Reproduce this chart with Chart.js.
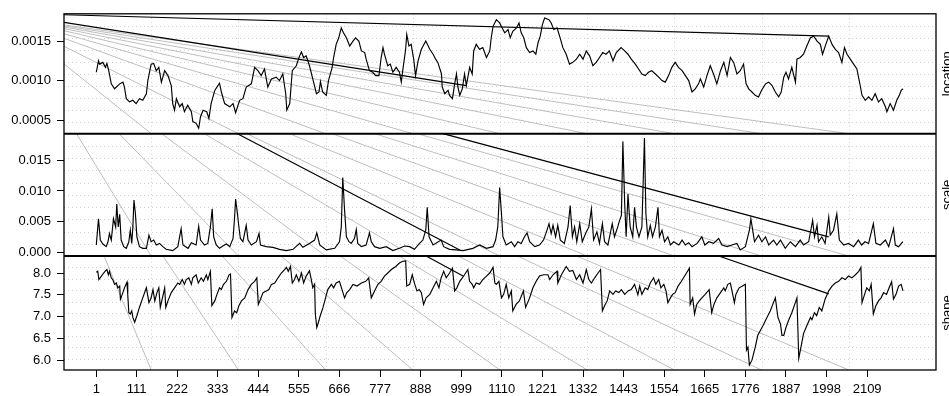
<!DOCTYPE html>
<html>
<head>
<meta charset="utf-8">
<script src="https://cdn.jsdelivr.net/npm/chart.js@4.4.1/dist/chart.umd.min.js"></script>
<style>
  html, body { margin: 0; padding: 0; background: #fff; }
  #wrap { width: 949px; height: 396px; }
</style>
</head>
<body>
<div id="wrap"><canvas id="myChart" width="949" height="396"></canvas></div>
<script>
// x axis tick labels (observation index)
const tickVals = [1,111,222,333,444,555,666,777,888,999,1110,1221,1332,1443,1554,1665,1776,1887,1998,2109];

// panel names, right hand side
const panelNames = ['location', 'scale', 'shape'];

// y ticks per panel
const locTicks = [0.0005, 0.0010, 0.0015];
const scaleTicks = [0, 0.005, 0.010, 0.015];
const shapeTicks = [6.0, 6.5, 7.0, 7.5, 8.0];

// location series
const locIdx = [1,7,10,19,26,30,35,42,51,65,
  74,78,83,92,101,110,119,128,138,142,
  151,158,165,172,179,188,197,206,210,215,
  220,229,236,242,251,261,265,274,281,286,
  293,303,309,315,325,338,343,352,366,375,
  382,393,402,411,425,434,443,452,461,470,
  480,493,502,511,519,522,530,537,548,557,
  562,568,575,584,593,603,610,614,620,630,
  636,646,650,657,664,671,677,685,694,703,
  710,719,726,735,739,748,757,765,774,780,
  785,789,798,805,812,821,830,835,839,847,
  850,856,862,869,874,881,890,902,913,922,
  929,935,945,947,954,963,967,975,981,986,
  990,995,1002,1008,1013,1022,1029,1033,1040,1049,
  1058,1068,1077,1081,1086,1095,1104,1111,1118,1127,
  1133,1140,1150,1157,1163,1170,1177,1186,1195,1203,
  1209,1215,1221,1227,1239,1245,1252,1261,1268,1277,
  1286,1295,1304,1314,1323,1332,1341,1350,1359,1368,
  1377,1386,1395,1404,1414,1423,1436,1446,1455,1464,
  1475,1484,1493,1502,1511,1520,1530,1539,1548,1557,
  1566,1575,1584,1593,1603,1612,1621,1630,1639,1648,
  1653,1662,1671,1680,1689,1698,1708,1717,1726,1735,
  1744,1753,1762,1771,1778,1785,1794,1803,1812,1820,
  1831,1840,1849,1858,1867,1874,1881,1887,1894,1903,
  1913,1917,1926,1935,1944,1954,1963,1972,1981,1987,
  1996,2004,2013,2022,2031,2040,2047,2054,2063,2072,
  2081,2090,2095,2104,2113,2122,2131,2140,2149,2159,
  2163,2172,2181,2190,2197,2202,2207];
const locVal = [0.001110,0.001256,0.001214,0.001236,0.001173,0.001223,0.001130,0.000962,0.000899,0.000962,
  0.000984,0.000921,0.000773,0.000732,0.000752,0.000710,0.000773,0.000752,0.000836,0.001004,
  0.001214,0.001223,0.001130,0.001173,0.000984,0.001130,0.001067,0.000941,0.000710,0.000626,
  0.000773,0.000669,0.000710,0.000606,0.000689,0.000606,0.000480,0.000458,0.000395,0.000543,
  0.000626,0.000606,0.000521,0.000710,0.000878,0.000971,0.000858,0.000710,0.000669,0.000710,
  0.000593,0.000752,0.000773,0.000921,0.000962,0.001173,0.001130,0.001067,0.001151,0.000921,
  0.001025,0.001047,0.001004,0.001088,0.000836,0.000626,0.000710,0.001130,0.001193,0.001319,
  0.001369,0.001298,0.001319,0.001193,0.001025,0.000836,0.000860,0.000990,0.000858,0.000815,
  0.001004,0.001173,0.001298,0.001466,0.001550,0.001676,0.001613,0.001550,0.001445,0.001508,
  0.001550,0.001508,0.001382,0.001361,0.001277,0.001130,0.001110,0.001067,0.001067,0.001298,
  0.001424,0.001340,0.001193,0.001214,0.001110,0.001173,0.001110,0.000984,0.001130,0.001403,
  0.001592,0.001445,0.001466,0.001277,0.001067,0.001256,0.001403,0.001508,0.001403,0.001340,
  0.001277,0.001236,0.001088,0.000921,0.000836,0.000878,0.000815,0.000773,0.000962,0.001088,
  0.000921,0.000815,0.000899,0.001088,0.000940,0.001173,0.001088,0.001382,0.001466,0.001403,
  0.001424,0.001298,0.001382,0.001550,0.001696,0.001781,0.001739,0.001676,0.001613,0.001655,
  0.001550,0.001633,0.001676,0.001739,0.001613,0.001550,0.001424,0.001361,0.001382,0.001340,
  0.001487,0.001571,0.001718,0.001802,0.001781,0.001739,0.001655,0.001676,0.001571,0.001424,
  0.001340,0.001214,0.001236,0.001277,0.001340,0.001277,0.001382,0.001319,0.001193,0.001236,
  0.001298,0.001361,0.001340,0.001382,0.001256,0.001361,0.001424,0.001382,0.001340,0.001277,
  0.001214,0.001151,0.001088,0.001067,0.001110,0.001130,0.001088,0.001047,0.001004,0.000984,
  0.001067,0.001173,0.001236,0.001173,0.001130,0.001067,0.001004,0.000858,0.000899,0.000962,
  0.001025,0.000921,0.001067,0.001193,0.001088,0.000962,0.001130,0.001236,0.001067,0.001298,
  0.001236,0.001088,0.001130,0.001214,0.000962,0.000899,0.000858,0.000815,0.000795,0.000878,
  0.000962,0.000984,0.000941,0.000858,0.000795,0.000858,0.001047,0.001110,0.001025,0.001173,
  0.000984,0.001277,0.001298,0.001340,0.001445,0.001550,0.001571,0.001508,0.001466,0.001340,
  0.001466,0.001571,0.001466,0.001403,0.001361,0.001236,0.001424,0.001340,0.001277,0.001214,
  0.001151,0.000941,0.000815,0.000752,0.000795,0.000752,0.000836,0.000732,0.000773,0.000669,
  0.000606,0.000710,0.000626,0.000752,0.000815,0.000878,0.000899];

// scale series
const scaleIdx = [1,7,12,19,28,33,37,42,48,54,
  57,61,65,69,76,83,90,94,98,101,
  104,108,112,119,128,138,145,151,158,165,
  174,183,192,210,224,233,238,252,261,274,
  281,286,297,306,313,318,322,329,338,347,
  357,366,375,379,382,387,391,395,402,411,
  416,425,439,446,450,466,484,502,521,539,
  557,566,584,598,604,612,630,653,666,671,
  675,680,685,692,698,707,712,716,726,739,
  748,753,762,776,794,812,830,844,858,871,
  885,894,902,906,911,922,944,951,967,985,
  1004,1031,1049,1068,1086,1093,1099,1104,1109,1113,
  1122,1136,1145,1154,1163,1172,1179,1186,1200,1213,
  1224,1232,1239,1245,1250,1257,1263,1270,1281,1291,
  1297,1303,1309,1315,1323,1330,1339,1348,1355,1361,
  1370,1377,1385,1391,1400,1412,1418,1427,1432,1437,
  1441,1446,1450,1455,1461,1468,1473,1478,1485,1493,
  1500,1504,1509,1516,1522,1530,1537,1541,1548,1555,
  1564,1571,1580,1594,1603,1612,1621,1630,1644,1657,
  1665,1676,1689,1703,1712,1726,1739,1753,1762,1776,
  1787,1791,1796,1801,1812,1821,1831,1840,1853,1862,
  1872,1885,1899,1913,1926,1935,1949,1960,1965,1972,
  1976,1985,1994,2004,2008,2017,2026,2033,2045,2058,
  2072,2085,2094,2103,2113,2126,2133,2145,2159,2168,
  2181,2186,2195,2207];
const scaleVal = [0.00123,0.00549,0.00203,0.00139,0.00096,0.00176,0.00309,0.00203,0.00549,0.00416,
  0.00789,0.00416,0.00620,0.00203,0.00096,0.00069,0.00176,0.00363,0.00149,0.00416,
  0.00853,0.00629,0.00256,0.00096,0.00069,0.00069,0.00283,0.00176,0.00203,0.00123,
  0.00149,0.00096,0.00053,0.00032,0.00096,0.00389,0.00123,0.00069,0.00160,0.00123,
  0.00427,0.00203,0.00123,0.00149,0.00416,0.00709,0.00256,0.00123,0.00069,0.00107,
  0.00139,0.00096,0.00229,0.00549,0.00869,0.00629,0.00416,0.00229,0.00176,0.00443,
  0.00203,0.00123,0.00176,0.00309,0.00123,0.00096,0.00085,0.00053,0.00032,0.00053,
  0.00149,0.00085,0.00149,0.00203,0.00320,0.00123,0.00043,0.00069,0.00176,0.00416,
  0.01217,0.00684,0.00256,0.00176,0.00149,0.00229,0.00373,0.00149,0.00096,0.00123,
  0.00320,0.00176,0.00096,0.00069,0.00096,0.00032,0.00069,0.00107,0.00096,0.00053,
  0.00149,0.00203,0.00363,0.00736,0.00256,0.00123,0.00203,0.00096,0.00053,0.00043,
  0.00032,0.00069,0.00123,0.00069,0.00096,0.00203,0.00416,0.01057,0.00629,0.00256,
  0.00123,0.00176,0.00096,0.00176,0.00149,0.00256,0.00320,0.00176,0.00096,0.00123,
  0.00203,0.00336,0.00469,0.00309,0.00443,0.00256,0.00443,0.00203,0.00149,0.00416,
  0.00764,0.00256,0.00416,0.00176,0.00469,0.00176,0.00309,0.00416,0.00709,0.00203,
  0.00336,0.00149,0.00469,0.00176,0.00123,0.00469,0.00256,0.00416,0.00523,0.00604,
  0.01804,0.00789,0.00256,0.00949,0.00416,0.00256,0.00736,0.00416,0.00256,0.00416,
  0.01857,0.00629,0.00256,0.00443,0.00256,0.00416,0.00736,0.00256,0.00363,0.00176,
  0.00256,0.00123,0.00176,0.00123,0.00203,0.00123,0.00160,0.00096,0.00149,0.00256,
  0.00123,0.00176,0.00149,0.00229,0.00123,0.00096,0.00123,0.00149,0.00043,0.00096,
  0.00363,0.00549,0.00363,0.00176,0.00283,0.00176,0.00256,0.00123,0.00203,0.00123,
  0.00203,0.00069,0.00176,0.00096,0.00203,0.00123,0.00176,0.00523,0.00256,0.00443,
  0.00176,0.00256,0.00149,0.00576,0.00283,0.00363,0.00629,0.00203,0.00123,0.00149,
  0.00096,0.00203,0.00123,0.00176,0.00149,0.00469,0.00149,0.00123,0.00203,0.00096,
  0.00389,0.00123,0.00096,0.00176];

// shape series
const shapeIdx = [1,5,8,15,21,26,30,34,37,42,
  46,51,56,60,65,67,72,78,85,87,
  90,94,98,101,106,112,119,128,138,145,
  151,156,161,167,172,176,183,188,191,197,
  206,215,224,229,236,242,247,254,261,265,
  274,280,288,294,302,306,313,317,325,331,
  338,343,349,357,364,368,372,379,385,391,
  398,407,416,425,434,440,444,450,457,466,
  473,480,489,498,507,516,521,526,532,537,
  543,548,555,562,568,575,584,589,593,598,
  600,604,610,612,621,628,634,644,650,657,
  666,674,680,686,694,703,714,726,738,746,
  753,762,771,780,789,798,808,820,830,839,
  847,850,858,865,872,878,884,890,896,903,
  913,922,931,938,944,951,958,967,975,981,
  987,995,1002,1008,1017,1022,1029,1033,1040,1049,
  1058,1068,1077,1086,1091,1095,1102,1109,1115,1122,
  1129,1136,1140,1149,1158,1169,1175,1186,1195,1204,
  1213,1224,1236,1241,1250,1261,1263,1273,1286,1295,
  1304,1314,1323,1332,1341,1348,1355,1364,1373,1380,
  1385,1391,1398,1405,1414,1421,1430,1437,1446,1455,
  1464,1473,1482,1487,1493,1502,1509,1516,1525,1531,
  1539,1545,1553,1559,1564,1571,1577,1584,1592,1601,
  1612,1623,1625,1632,1637,1643,1650,1657,1666,1677,
  1684,1690,1698,1708,1717,1721,1728,1735,1746,1750,
  1759,1768,1776,1779,1783,1787,1794,1803,1810,1817,
  1824,1835,1844,1851,1858,1865,1872,1876,1881,1887,
  1894,1903,1911,1917,1922,1929,1935,1944,1954,1958,
  1965,1971,1978,1985,1994,2004,2013,2022,2031,2040,
  2049,2058,2067,2077,2086,2092,2095,2102,2108,2115,
  2120,2126,2133,2140,2147,2154,2162,2169,2176,2181,
  2188,2195,2202,2207];
const shapeVal = [8.02,8.04,7.85,7.93,8.00,8.05,8.08,7.96,8.04,7.89,
  7.85,7.74,7.77,7.66,7.70,7.40,7.51,7.66,7.79,7.51,
  7.09,7.06,7.13,6.98,6.87,7.02,7.21,7.43,7.66,7.32,
  7.43,7.62,7.36,7.55,7.66,7.21,7.47,7.66,7.21,7.36,
  7.55,7.66,7.77,7.74,7.85,7.74,7.85,7.89,7.74,7.89,
  7.96,7.77,7.89,7.81,7.96,7.85,8.04,7.25,7.36,7.51,
  7.66,7.62,7.74,7.81,7.96,7.98,6.98,7.13,7.09,7.25,
  7.36,7.43,7.62,7.74,7.81,7.89,7.28,7.40,7.55,7.59,
  7.62,7.74,7.77,7.89,8.00,8.08,8.13,8.04,8.15,7.77,
  7.85,7.96,7.81,8.00,7.77,7.93,8.05,7.85,7.66,7.74,
  7.06,6.75,6.91,6.98,7.21,7.43,7.62,7.74,7.66,7.77,
  7.81,7.59,7.43,7.55,7.62,7.74,7.70,7.77,7.81,7.89,
  7.43,7.59,7.74,7.81,7.93,8.00,8.08,8.15,8.23,8.27,
  8.28,7.70,7.74,7.96,7.74,7.59,7.62,7.55,7.28,7.43,
  7.51,7.66,7.81,7.66,7.89,8.04,7.89,8.00,8.11,7.59,
  7.66,7.81,7.89,7.96,8.08,7.81,7.74,7.66,7.77,7.74,
  7.85,7.93,8.00,8.13,7.77,7.74,7.81,7.43,7.51,7.74,
  7.43,7.59,7.13,7.28,7.36,7.59,7.21,7.43,7.66,7.81,
  7.93,7.96,7.96,7.85,7.96,8.04,7.77,7.96,8.15,8.04,
  8.06,7.85,7.96,7.77,8.08,7.85,7.77,7.89,8.00,8.08,
  7.13,7.25,7.36,7.59,7.51,7.59,7.55,7.62,7.51,7.59,
  7.62,7.74,7.50,7.70,7.51,7.66,7.62,7.77,7.89,7.74,
  7.85,7.66,7.74,7.59,7.32,7.43,7.51,7.55,7.70,7.81,
  7.96,8.11,7.28,7.43,7.06,7.28,7.36,7.43,7.51,7.62,
  7.09,7.28,7.43,7.55,7.66,7.59,7.74,7.77,7.32,7.51,
  7.66,7.70,7.74,6.23,6.30,5.89,6.00,6.30,6.57,6.68,
  6.79,6.98,7.13,7.28,7.43,6.98,6.83,6.57,6.57,6.75,
  6.91,7.09,7.28,7.43,6.04,6.34,6.61,6.79,6.98,6.93,
  7.09,7.02,7.21,7.13,7.40,7.59,7.70,7.77,7.81,7.89,
  7.85,7.93,7.89,7.96,8.04,8.13,7.32,7.51,7.66,7.59,
  7.74,7.06,7.25,7.36,7.43,7.55,7.51,7.66,7.80,7.40,
  7.51,7.70,7.74,7.59];

// black straight segments in each panel: [x0, y0, x1, y1]
const locSegs = [[-87.3, 0.001844, 2004, 0.001571], [-87.3, 0.001747, 1013, 0.000940]];
const scaleSegs = [[387, 0.01929, 995, 0.00043], [949, 0.01929, 2004, 0.00256]];
const shapeSegs = [[903, 8.39, 1004, 7.93], [1703, 8.39, 2004, 7.52]];

// grey rays: common start, end x, end height per panel (fraction of full plot height)
const rayFrom = [-248.6, 0.9917];
const rayEndX = [151.2, 389.6, 628.1, 866.5, 1105, 1343.5, 1581.9, 1820.4, 2058.8];
const rayEndY = [0.6634, 0.3199, 0];

Chart.defaults.font.family = "'Liberation Sans', Arial, sans-serif";
Chart.defaults.font.size = 13;
Chart.defaults.color = '#000';

const panelIds = ['yLoc', 'yScale', 'yShape'];

const pts = (xs, ys) => xs.map((x, i) => ({x: x, y: ys[i]}));
const segPts = segs => {
  const out = [];
  segs.forEach(s => { out.push({x: s[0], y: s[1]}, {x: s[2], y: s[3]}, {x: s[2], y: null}); });
  return out;
};
const rayPts = yb => {
  const out = [];
  rayEndX.forEach(xb => { out.push({x: rayFrom[0], y: rayFrom[1]}, {x: xb, y: yb}, {x: xb, y: null}); });
  return out;
};

function yAxis(min, max, ticks, digits, weight, sw) {
  return {
    type: 'linear', position: 'left', stack: 'panels', stackWeight: sw, weight: weight,
    min: min, max: max,
    afterBuildTicks: s => { s.ticks = ticks.map(v => ({value: v})); },
    afterFit: s => { s.width = 64; },
    ticks: { autoSkip: false, padding: 6, callback: v => Number(v).toFixed(digits) },
    grid: { drawOnChartArea: false, drawTicks: true, tickLength: 7, color: '#000', lineWidth: 1 },
    border: { display: false }
  };
}

const frame = {
  id: 'frame',
  beforeDatasetsDraw(chart) {
    const c = chart.ctx, a = chart.chartArea;
    c.save();
    c.strokeStyle = '#cfcfcf';
    c.lineWidth = 1;
    c.setLineDash([1, 3]);
    c.beginPath();
    for (let k = 1; k < 10; k++) {
      const x = Math.round(a.left + k * (a.right - a.left) / 10) + 0.5;
      c.moveTo(x, a.top); c.lineTo(x, a.bottom);
    }
    panelIds.forEach(id => {
      const s = chart.scales[id];
      for (let k = 1; k < 10; k++) {
        const y = Math.round(s.top + k * (s.bottom - s.top) / 10) + 0.5;
        c.moveTo(a.left, y); c.lineTo(a.right, y);
      }
    });
    c.stroke();
    c.restore();
  },
  // keep each dataset inside its own panel
  beforeDatasetDraw(chart, args) {
    const id = chart.data.datasets[args.index].panel;
    if (!id) return;
    const s = chart.scales[id], a = chart.chartArea, c = chart.ctx;
    c.save();
    c.beginPath();
    c.rect(a.left, s.top, a.right - a.left, s.bottom - s.top);
    c.clip();
  },
  afterDatasetDraw(chart, args) {
    if (chart.data.datasets[args.index].panel) chart.ctx.restore();
  },
  afterDatasetsDraw(chart) {
    const c = chart.ctx, a = chart.chartArea;
    c.save();
    c.strokeStyle = '#000';
    c.lineWidth = 1.3;
    c.strokeRect(a.left, a.top, a.right - a.left, a.bottom - a.top);
    c.lineWidth = 2;
    c.beginPath();
    ['yLoc', 'yScale'].forEach(id => {
      const y = chart.scales[id].bottom;
      c.moveTo(a.left, y); c.lineTo(a.right, y);
    });
    c.stroke();
    c.restore();
  },
  afterDraw(chart) {
    const c = chart.ctx;
    c.save();
    c.fillStyle = '#000';
    c.font = "13px 'Liberation Sans', Arial, sans-serif";
    c.textAlign = 'center';
    c.textBaseline = 'alphabetic';
    panelIds.forEach((id, i) => {
      const s = chart.scales[id];
      c.save();
      c.translate(951, (s.top + s.bottom) / 2);
      c.rotate(-Math.PI / 2);
      c.fillText(panelNames[i], 0, 0);
      c.restore();
    });
    c.restore();
  }
};

const line = (data, axis, panel, color, width) => ({
  data: data, yAxisID: axis, xAxisID: 'x', panel: panel,
  borderColor: color, borderWidth: width,
  pointRadius: 0, tension: 0, fill: false, spanGaps: false
});

const chartData = {
  type: 'line',
  data: {
    datasets: [
      line(pts(locIdx, locVal), 'yLoc', 'yLoc', '#000', 1.15),
      line(pts(scaleIdx, scaleVal), 'yScale', 'yScale', '#000', 1.15),
      line(pts(shapeIdx, shapeVal), 'yShape', 'yShape', '#000', 1.15),
      line(segPts(locSegs), 'yLoc', 'yLoc', '#000', 1.2),
      line(segPts(scaleSegs), 'yScale', 'yScale', '#000', 1.2),
      line(segPts(shapeSegs), 'yShape', 'yShape', '#000', 1.2),
      line(rayPts(rayEndY[0]), 'yAll', 'yLoc', '#bebebe', 1),
      line(rayPts(rayEndY[1]), 'yAll', 'yScale', '#bebebe', 1),
      line(rayPts(rayEndY[2]), 'yAll', 'yShape', '#bebebe', 1)
    ]
  },
  options: {
    responsive: false,
    animation: false,
    devicePixelRatio: 1,
    layout: { padding: { left: 0, top: 9, right: 13, bottom: 0 } },
    plugins: { legend: { display: false }, tooltip: { enabled: false } },
    scales: {
      x: {
        type: 'linear', min: -87.3, max: 2297.3,
        afterBuildTicks: s => { s.ticks = tickVals.map(v => ({value: v})); },
        afterFit: s => { s.height = 26; },
        ticks: { autoSkip: false, maxRotation: 0, padding: 5, callback: v => String(v) },
        grid: { drawOnChartArea: false, drawTicks: true, tickLength: 7, color: '#000' },
        border: { display: false }
      },
      yLoc: yAxis(0.000326, 0.001856, locTicks, 4, 3, 121.5),
      yScale: yAxis(-0.00056, 0.01929, scaleTicks, 3, 2, 124),
      yShape: yAxis(5.774, 8.39, shapeTicks, 1, 1, 115.5),
      yAll: { type: 'linear', display: false, min: 0, max: 1 }
    }
  },
  plugins: [frame]
};

const myChart = new Chart(document.getElementById('myChart').getContext('2d'), chartData);
</script>
</body>
</html>
